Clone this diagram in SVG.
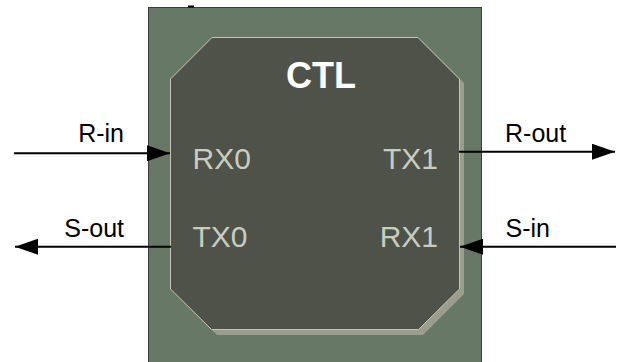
<svg xmlns="http://www.w3.org/2000/svg" width="618" height="362" viewBox="0 0 618 362">
<style>
.lbl{font-family:"Liberation Sans",Arial,sans-serif;font-size:25px;fill:#000}
.port{font-family:"Liberation Sans",Arial,sans-serif;font-size:30px;fill:#c8cdc0}
.title{font-family:"Liberation Sans",Arial,sans-serif;font-size:36px;font-weight:bold;fill:#ffffff}
.wire{stroke:#000;stroke-width:2;fill:none;marker-end:url(#ah)}
</style>
<defs>
<marker id="ah" markerUnits="userSpaceOnUse" markerWidth="23" markerHeight="16" refX="23" refY="8" orient="auto" viewBox="0 0 23 16">
<path d="M0,0 L23,8 L0,16 Z" fill="#000"/>
</marker>
</defs>
<rect width="618" height="362" fill="#ffffff"/>
<g id="ctl">
<rect x="148.5" y="7.5" width="333" height="360" fill="#677966" stroke="#3c3c3c" stroke-width="1"/>
<line x1="188" y1="6.5" x2="194" y2="6.5" stroke="#000" stroke-width="2"/>
<polygon points="217,42 423,42 464,83 464,294 423,335 217,335 175,293 175,84" fill="#9b9e8d"/>
<polygon points="212,37.5 418,37.5 459.5,79 459.5,289 418.5,329.5 211.5,329.5 170.5,289 170.5,79" fill="#4f5248" stroke="#c2c7b8" stroke-width="1"/>
<text class="title" x="286" y="87.5">CTL</text>
<text class="port" x="192.5" y="169">RX0</text>
<text class="port" x="192.5" y="246.5">TX0</text>
<text class="port" x="438" y="169" text-anchor="end">TX1</text>
<text class="port" x="438" y="246.5" text-anchor="end">RX1</text>
</g>
<g id="connectors">
<line class="wire" x1="14" y1="153.3" x2="170" y2="153.3"/>
<line class="wire" x1="171" y1="246.7" x2="15" y2="246.7"/>
<line class="wire" x1="459" y1="151.7" x2="615" y2="151.7"/>
<line class="wire" x1="616" y1="246.7" x2="460" y2="246.7"/>
<text class="lbl" x="124" y="142.3" text-anchor="end">R-in</text>
<text class="lbl" x="124" y="237.3" text-anchor="end">S-out</text>
<text class="lbl" x="505" y="142.3">R-out</text>
<text class="lbl" x="505.5" y="237.3">S-in</text>
</g>
</svg>
